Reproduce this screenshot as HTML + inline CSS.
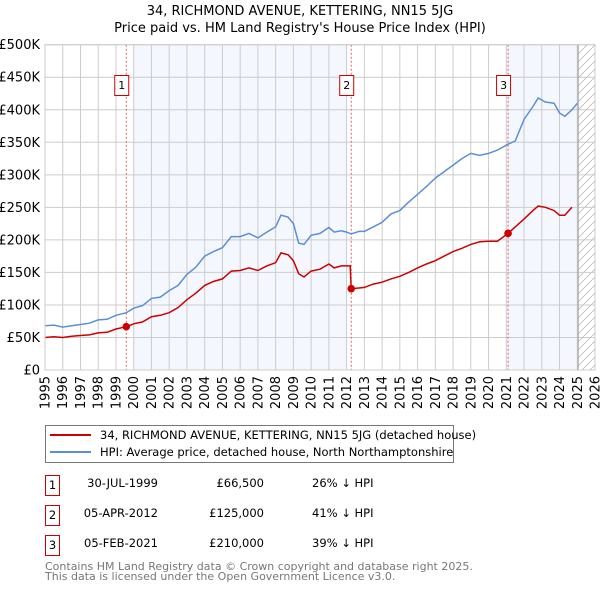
<!DOCTYPE html>
<html><head><meta charset="utf-8"><style>
body{margin:0;background:#fff;width:600px;height:590px;overflow:hidden;font-family:"DejaVu Sans","Liberation Sans",sans-serif}
svg text{font-family:"DejaVu Sans","Liberation Sans",sans-serif}
</style></head><body>
<svg id="chart" width="600" height="590" xmlns="http://www.w3.org/2000/svg">
<text x="300" y="15" text-anchor="middle" font-size="13">34, RICHMOND AVENUE, KETTERING, NN15 5JG</text>
<text x="300" y="32" text-anchor="middle" font-size="13">Price paid vs. HM Land Registry's House Price Index (HPI)</text>
<g id="plot"></g>
<g>
<rect x="45.5" y="425.5" width="408" height="37" fill="#fff" stroke="#777"/>
<line x1="50" y1="435" x2="91" y2="435" stroke="#cc0000" stroke-width="2"/>
<text x="100" y="439" font-size="11.5">34, RICHMOND AVENUE, KETTERING, NN15 5JG (detached house)</text>
<line x1="50" y1="452" x2="91" y2="452" stroke="#5b8fd4" stroke-width="2"/>
<text x="100" y="456" font-size="11.5">HPI: Average price, detached house, North Northamptonshire</text>
</g>
<g font-size="11.5">
<rect x="45.5" y="475.5" width="14" height="20" fill="#fff" stroke="#cc0000"/><text x="52.5" y="489" text-anchor="middle">1</text>
<text x="158" y="487" text-anchor="end">30-JUL-1999</text><text x="264" y="487" text-anchor="end">£66,500</text><text x="312" y="487">26% ↓ HPI</text>
<rect x="45.5" y="505.5" width="14" height="20" fill="#fff" stroke="#cc0000"/><text x="52.5" y="519" text-anchor="middle">2</text>
<text x="158" y="517" text-anchor="end">05-APR-2012</text><text x="264" y="517" text-anchor="end">£125,000</text><text x="312" y="517">41% ↓ HPI</text>
<rect x="45.5" y="535.5" width="14" height="20" fill="#fff" stroke="#cc0000"/><text x="52.5" y="549" text-anchor="middle">3</text>
<text x="158" y="547" text-anchor="end">05-FEB-2021</text><text x="264" y="547" text-anchor="end">£210,000</text><text x="312" y="547">39% ↓ HPI</text>
</g>
<text x="45" y="570" font-size="11" fill="#777">Contains HM Land Registry data © Crown copyright and database right 2025.</text>
<text x="45" y="580" font-size="11" fill="#777">This data is licensed under the Open Government Licence v3.0.</text>
</svg>
<script>
const yTicks=[0,50,100,150,200,250,300,350,400,450,500];
const yLabels=["£0","£50K","£100K","£150K","£200K","£250K","£300K","£350K","£400K","£450K","£500K"];
const xYears=[1995,1996,1997,1998,1999,2000,2001,2002,2003,2004,2005,2006,2007,2008,2009,2010,2011,2012,2013,2014,2015,2016,2017,2018,2019,2020,2021,2022,2023,2024,2025,2026];
const hpiDates=[1995,1995.5,1996,1996.5,1997,1997.5,1998,1998.5,1999,1999.58,2000,2000.5,2001,2001.5,2002,2002.5,2003,2003.5,2004,2004.5,2005,2005.5,2006,2006.5,2007,2007.5,2008,2008.3,2008.7,2009,2009.3,2009.6,2010,2010.5,2011,2011.3,2011.7,2012,2012.26,2012.7,2013,2013.5,2014,2014.5,2015,2015.5,2016,2016.5,2017,2017.5,2018,2018.5,2019,2019.5,2020,2020.5,2021.1,2021.5,2022,2022.5,2022.8,2023.2,2023.7,2024,2024.3,2024.7,2025];
const hpiValues=[68,69,66,68,70,72,77,78,84,88,95,99,110,112,122,130,147,158,175,182,188,205,205,210,203,212,220,238,235,225,195,193,207,210,219,212,214,212,209,213,213,220,227,240,245,258,270,282,295,305,315,325,333,330,333,338,347,352,385,405,418,412,410,395,390,400,410];
const ppDates=[1995,1995.5,1996,1996.5,1997,1997.5,1998,1998.5,1999,1999.58,2000,2000.5,2001,2001.5,2002,2002.5,2003,2003.5,2004,2004.5,2005,2005.5,2006,2006.5,2007,2007.5,2008,2008.3,2008.7,2009,2009.3,2009.6,2010,2010.5,2011,2011.3,2011.7,2012,2012.2,2012.26,2012.7,2013,2013.5,2014,2014.5,2015,2015.5,2016,2016.5,2017,2017.5,2018,2018.5,2019,2019.5,2020,2020.5,2021.1,2021.5,2022,2022.5,2022.8,2023.2,2023.7,2024,2024.3,2024.7,2025];
const ppValues=[50,51,50,52,53,54,57,58,63,66.5,71,74,82,84,88,96,108,118,130,136,140,152,153,157,153,160,165,180,177,168,148,143,152,155,163,157,160,160,160,125,126,127,132,135,140,144,150,157,163,168,175,182,187,193,197,198,198,210,220,232,245,252,250,245,238,238,250];
const sales=[{label:"1",date:1999.58,value:66.5},{label:"2",date:2012.26,value:125},{label:"3",date:2021.1,value:210}];
const X0=45,X1=595,Y0=370,Y1=44.7;
const xs=d=>X0+(d-1995)/31*(X1-X0);
const ys=v=>Y0-v/500*(Y0-Y1);
const NS="http://www.w3.org/2000/svg";
const g=document.getElementById('plot');
function mk(t,a){const e=document.createElementNS(NS,t);for(const k in a)e.setAttribute(k,a[k]);g.appendChild(e);return e;}
let e;
e=mk('rect',{x:xs(2000),y:Y1,width:xs(2012)-xs(2000),height:Y0-Y1,fill:'#f4f7fe'});

e=mk('rect',{x:xs(2021),y:Y1,width:xs(2025)-xs(2021),height:Y0-Y1,fill:'#f4f7fe'});

const defs=document.createElementNS(NS,'defs');defs.innerHTML='<pattern id="hatch" width="8" height="8" patternUnits="userSpaceOnUse"><path d="M0 8L8 0" stroke="#bbb" stroke-width="0.8"/></pattern>';g.appendChild(defs);
e=mk('rect',{x:xs(2025.05),y:Y1,width:X1-xs(2025.05),height:Y0-Y1,fill:'url(#hatch)'});

yTicks.forEach((v,i)=>{
 e=mk('line',{x1:X0,x2:X1,y1:ys(v),y2:ys(v),stroke:'#ccc','stroke-width':1});
 
 e=mk('text',{x:X0-5,y:ys(v)+4.5,'text-anchor':'end','font-size':'13'});e.textContent=yLabels[i];
 
});
xYears.forEach(y=>{
 e=mk('line',{x1:xs(y),x2:xs(y),y1:Y1,y2:Y0,stroke:'#ccc','stroke-width':1});
 
 e=mk('text',{x:0,y:0,'text-anchor':'end','font-size':'13',transform:`translate(${xs(y)+4.5},376) rotate(-90)`});e.textContent=y;
 
});
e=mk('line',{x1:xs(2025.05),x2:xs(2025.05),y1:Y1,y2:Y0,stroke:'#999','stroke-width':1});

sales.forEach(s=>{
 e=mk('line',{x1:xs(s.date),x2:xs(s.date),y1:Y1,y2:Y0,stroke:'#e06060','stroke-width':1,'stroke-dasharray':'2,2'});
 
});
e=mk('path',{d:hpiDates.map((d,i)=>(i?'L':'M')+xs(d).toFixed(1)+' '+ys(hpiValues[i]).toFixed(1)).join(''),fill:'none',stroke:'#5b8fd4','stroke-width':1.5});

e=mk('path',{d:ppDates.map((d,i)=>(i?'L':'M')+xs(d).toFixed(1)+' '+ys(ppValues[i]).toFixed(1)).join(''),fill:'none',stroke:'#cc0000','stroke-width':1.5});

sales.forEach(s=>{
 e=mk('circle',{cx:xs(s.date),cy:ys(s.value),r:3.8,fill:'#cc0000'});
 
 e=mk('rect',{x:xs(s.date)-11.5,y:75.5,width:14,height:20,fill:'#fff',stroke:'#cc0000'});
 
 e=mk('text',{x:xs(s.date)-4.5,y:89,'text-anchor':'middle','font-size':'11'});e.textContent=s.label;
 
});
e=mk('rect',{x:X0,y:Y1,width:X1-X0,height:Y0-Y1,fill:'none',stroke:'#ccc'});

</script>
</body></html>
